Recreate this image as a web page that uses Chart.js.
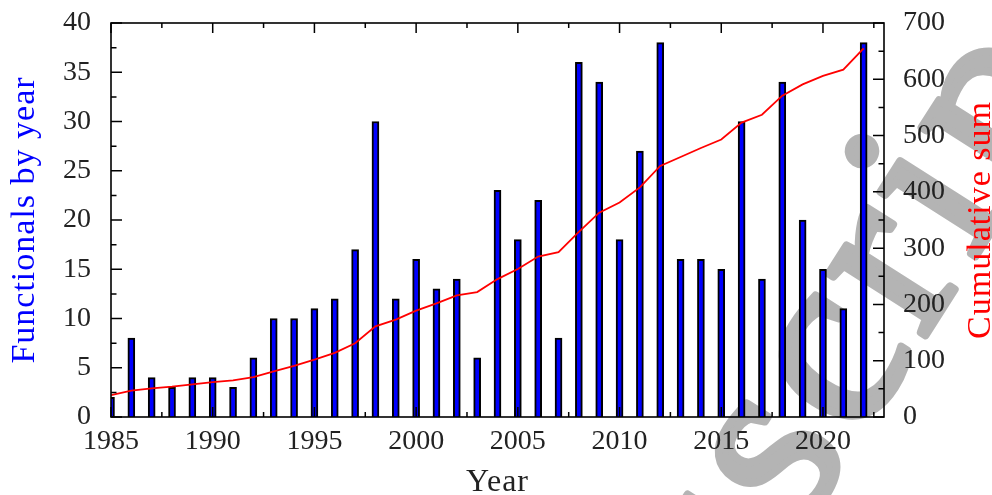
<!DOCTYPE html>
<html>
<head>
<meta charset="utf-8">
<script src="https://cdn.jsdelivr.net/npm/chart.js@4.4.1/dist/chart.umd.min.js"></script>
<style>
html,body{margin:0;padding:0;background:#fff;}
#wrap{width:992px;height:495px;position:relative;}
</style>
</head>
<body>
<div id="wrap"><canvas id="c"></canvas></div>
<script>
// ---- data ----
const years = [1985,1986,1987,1988,1989,1990,1991,1992,1993,1994,1995,1996,1997,1998,1999,
  2000,2001,2002,2003,2004,2005,2006,2007,2008,2009,2010,2011,2012,2013,2014,2015,2016,2017,
  2018,2019,2020,2021,2022];
const functionalsPerYear = [2,8,4,3,4,4,3,6,10,10,11,12,17,30,12,16,13,14,6,23,18,22,8,36,34,
  18,27,38,16,16,15,30,14,34,20,15,11,38];
const cumulativeSum = [39,47,51,54,58,62,65,71,81,91,102,114,131,161,173,189,202,216,222,245,
  263,285,293,329,363,381,408,446,462,478,493,523,537,571,591,606,617,655];
const xTickValues = [1985,1990,1995,2000,2005,2010,2015,2020];
const leftTickValues = [0,5,10,15,20,25,30,35,40];
const rightTickValues = [0,100,200,300,400,500,600,700];
const xTitle = 'Year';
const leftTitle = 'Functionals by year';
const rightTitle = 'Cumulative sum';
const watermarkText = 'manuscript';

const SERIF = '"Liberation Serif", "Times New Roman", serif';
const tickFont = {family: SERIF, size: 28};
const tickColor = '#222';

const backgroundAndWatermark = {
  id: 'bgwm',
  beforeDraw(chart) {
    const ctx = chart.ctx;
    ctx.save();
    ctx.fillStyle = '#fff';
    ctx.fillRect(0, 0, chart.width, chart.height);
    ctx.font = '250px ' + SERIF;
    try { ctx.letterSpacing = '10px'; } catch (e) {}
    ctx.fillStyle = '#b4b4b4';
    ctx.strokeStyle = '#b4b4b4';
    ctx.lineWidth = 8;
    ctx.lineJoin = 'round';
    ctx.textBaseline = 'alphabetic';
    ctx.translate(800, 532);
    ctx.rotate(-57.5 * Math.PI / 180);
    const pre = ctx.measureText('manu').width;
    ctx.fillText(watermarkText, -pre, 0);
    ctx.strokeText(watermarkText, -pre, 0);
    ctx.restore();
  }
};

const frameAndTicks = {
  id: 'frameTicks',
  afterDatasetsDraw(chart) {
    const {ctx, chartArea: {left, right, top, bottom}, scales: {x, y, y1}} = chart;
    ctx.save();
    ctx.strokeStyle = '#000';
    ctx.lineWidth = 1.5;
    ctx.beginPath();
    const seg = (x1, y1_, x2, y2) => { ctx.moveTo(x1, y1_); ctx.lineTo(x2, y2); };
    for (let i = 0; i < xTickValues.length; i++) {
      const v = xTickValues[i];
      const pm = x.getPixelForValue(v);
      seg(pm, bottom, pm, bottom - 10); seg(pm, top, pm, top + 10);
      const pn = x.getPixelForValue(v + 2.5);
      if (pn < right) { seg(pn, bottom, pn, bottom - 5); seg(pn, top, pn, top + 5); }
    }
    for (let i = 0; i < leftTickValues.length; i++) {
      const v = leftTickValues[i];
      const pm = y.getPixelForValue(v);
      seg(left, pm, left + 11, pm);
      if (i < leftTickValues.length - 1) {
        const pn = y.getPixelForValue(v + 2.5);
        seg(left, pn, left + 5.5, pn);
      }
    }
    for (let i = 0; i < rightTickValues.length; i++) {
      const v = rightTickValues[i];
      const pm = y1.getPixelForValue(v);
      seg(right, pm, right - 11, pm);
      if (i < rightTickValues.length - 1) {
        const pn = y1.getPixelForValue(v + 50);
        seg(right, pn, right - 5.5, pn);
      }
    }
    ctx.stroke();
    ctx.lineWidth = 1.6;
    ctx.strokeRect(left, top, right - left, bottom - top);
    ctx.restore();
  },
  afterDraw(chart) {
    const {ctx, chartArea: {left, right, top, bottom}} = chart;
    const midY = (top + bottom) / 2;
    ctx.save();
    ctx.font = '34px ' + SERIF;
    ctx.textAlign = 'center';
    ctx.textBaseline = 'alphabetic';
    try { ctx.letterSpacing = '1px'; } catch (e) {}
    ctx.save();
    ctx.translate(34, midY);
    ctx.rotate(-Math.PI / 2);
    ctx.fillStyle = '#0000ff';
    ctx.fillText(leftTitle, 0, 0);
    ctx.restore();
    ctx.save();
    ctx.translate(990, midY);
    ctx.rotate(-Math.PI / 2);
    ctx.fillStyle = '#ff0000';
    ctx.fillText(rightTitle, 0, 0);
    ctx.restore();
    ctx.font = '32px ' + SERIF;
    ctx.fillStyle = '#222';
    ctx.fillText(xTitle, (left + right) / 2, 491);
    ctx.restore();
  }
};

const noPad = s => { s.paddingTop = 0; s.paddingBottom = 0; };

const ctx = document.getElementById('c').getContext('2d');
new Chart(ctx, {
  type: 'bar',
  data: {
    datasets: [
      {
        type: 'line',
        label: rightTitle,
        data: years.map((yr, i) => ({x: yr, y: cumulativeSum[i]})),
        borderColor: '#ff0000',
        borderWidth: 1.8,
        pointRadius: 0,
        tension: 0,
        fill: false,
        yAxisID: 'y1',
        xAxisID: 'x',
        order: 0
      },
      {
        type: 'bar',
        label: leftTitle,
        data: years.map((yr, i) => ({x: yr, y: functionalsPerYear[i]})),
        backgroundColor: '#0000ff',
        borderColor: '#000000',
        borderWidth: 2,
        borderSkipped: 'start',
        barThickness: 7,
        yAxisID: 'y',
        xAxisID: 'x',
        order: 1
      }
    ]
  },
  options: {
    responsive: true,
    maintainAspectRatio: false,
    animation: false,
    devicePixelRatio: 1,
    layout: {padding: {top: 23, left: 0, right: 0, bottom: 0}},
    plugins: {legend: {display: false}, tooltip: {enabled: false}},
    scales: {
      x: {
        type: 'linear',
        position: 'bottom',
        min: 1985,
        max: 2023,
        offset: false,
        grid: {display: false, drawTicks: false},
        border: {display: false},
        afterBuildTicks: s => { s.ticks = xTickValues.map(v => ({value: v})); },
        afterFit: s => { s.height = 78; s.paddingLeft = 0; s.paddingRight = 0; },
        ticks: {
          font: tickFont, color: tickColor, padding: 8,
          maxRotation: 0, autoSkip: false,
          callback: v => String(v)
        }
      },
      y: {
        type: 'linear',
        position: 'left',
        min: 0,
        max: 40,
        grid: {display: false, drawTicks: false},
        border: {display: false},
        afterBuildTicks: s => { s.ticks = leftTickValues.map(v => ({value: v})); },
        afterFit: s => { s.width = 111; noPad(s); },
        ticks: {font: tickFont, color: tickColor, padding: 20, callback: v => String(v)}
      },
      y1: {
        type: 'linear',
        position: 'right',
        min: 0,
        max: 700,
        grid: {display: false, drawTicks: false},
        border: {display: false},
        afterBuildTicks: s => { s.ticks = rightTickValues.map(v => ({value: v})); },
        afterFit: s => { s.width = 108; noPad(s); },
        ticks: {font: tickFont, color: tickColor, padding: 19, callback: v => String(v)}
      }
    }
  },
  plugins: [backgroundAndWatermark, frameAndTicks]
});
</script>
</body>
</html>
